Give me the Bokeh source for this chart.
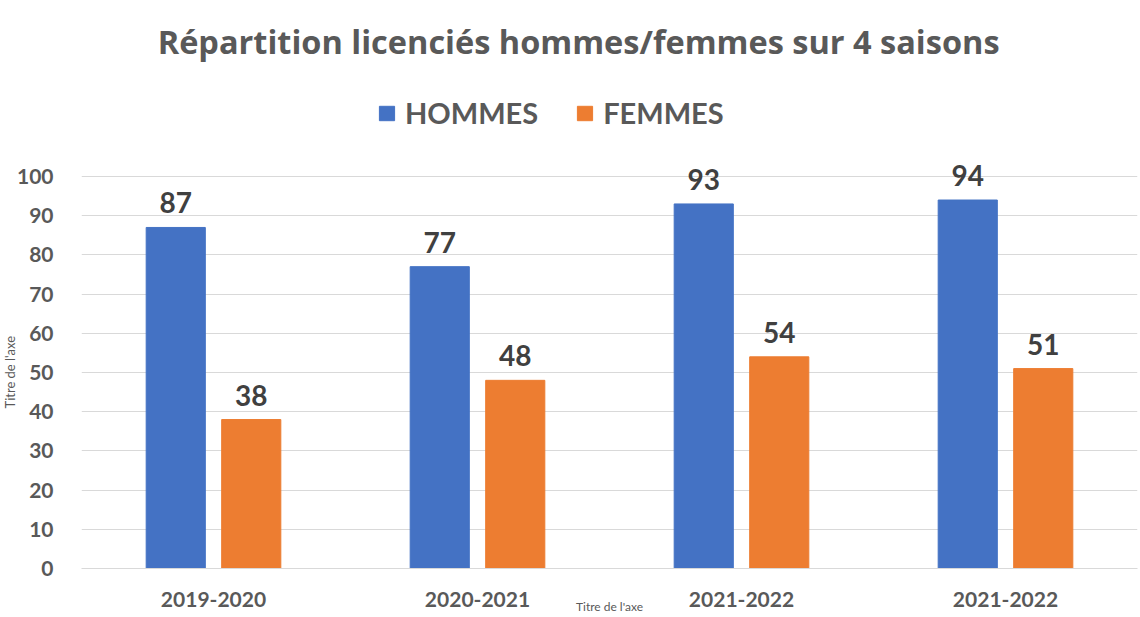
from bokeh.plotting import figure
from bokeh.models import (ColumnDataSource, Range1d, FixedTicker, LabelSet, Label,
                          Legend, LegendItem, Title)
from bokeh.core.properties import value
from bokeh.transform import dodge
from bokeh.embed import file_html
from bokeh.resources import INLINE

categories = ["2019-2020", "2020-2021", "2021-2022", "2021-2022"]
hommes = [87, 77, 93, 94]
femmes = [38, 48, 54, 51]
series_names = ["HOMMES", "FEMMES"]
y_ticks = [0, 10, 20, 30, 40, 50, 60, 70, 80, 90, 100]

FONT = "Lato"
TITLE_FONT = "Open Sans"
GREY = "#595959"
DARK = "#404040"
BLUE = "#4472C4"
ORANGE = "#ED7D31"

idx = list(range(len(categories)))
src = ColumnDataSource(dict(x=idx, hommes=hommes, femmes=femmes,
                            hl=[str(v) for v in hommes], fl=[str(v) for v in femmes]))

p = figure(width=1140, height=617, output_backend="svg", toolbar_location=None,
           title_location=None,
           x_range=Range1d(-0.5, len(categories) - 0.5), y_range=Range1d(0, 144.9),
           min_border_left=81, min_border_right=3, min_border_top=0, min_border_bottom=49)
p.outline_line_color = None
p.background_fill_color = "white"
p.border_fill_color = "white"

rh = p.vbar(x=dodge("x", -0.143, range=p.x_range), top="hommes", width=0.224, source=src,
            fill_color=BLUE, line_color=BLUE)
rf = p.vbar(x=dodge("x", 0.143, range=p.x_range), top="femmes", width=0.224, source=src,
            fill_color=ORANGE, line_color=ORANGE)

for col, lab, off in (("hommes", "hl", -0.143), ("femmes", "fl", 0.143)):
    ls = LabelSet(x=dodge("x", off, range=p.x_range), y=col, text=lab, source=src,
                  y_offset=14, text_align="center", text_baseline="alphabetic",
                  text_font=value(FONT), text_font_style="bold", text_font_size="28px",
                  text_color=DARK)
    p.add_layout(ls)

# chart title (inside the tall frame)
p.add_layout(Label(x=1.383, y=134.5, text="Répartition licenciés hommes/femmes sur 4 saisons",
                   text_align="center", text_baseline="middle", text_font=TITLE_FONT,
                   text_font_style="bold", text_font_size="32.5px", text_color=GREY))

# axes
p.xaxis.ticker = FixedTicker(ticks=idx)
p.xaxis.major_label_overrides = {i: c for i, c in zip(idx, categories)}
p.xaxis.major_tick_line_color = None
p.xaxis.minor_tick_line_color = None
p.xaxis.axis_line_color = "#d9d9d9"
p.xaxis.major_label_standoff = 17
p.xaxis.major_label_text_font = FONT
p.xaxis.major_label_text_font_style = "bold"
p.xaxis.major_label_text_font_size = "21px"
p.xaxis.major_label_text_color = GREY
p.xaxis.axis_label = "Titre de l'axe"
p.xaxis.axis_label_text_font = FONT
p.xaxis.axis_label_text_font_style = "normal"
p.xaxis.axis_label_text_font_size = "12px"
p.xaxis.axis_label_text_color = GREY
p.xaxis.axis_label_standoff = -11

p.yaxis.ticker = FixedTicker(ticks=y_ticks)
p.yaxis.major_tick_line_color = None
p.yaxis.minor_tick_line_color = None
p.yaxis.axis_line_color = None
p.yaxis.major_label_standoff = 22
p.yaxis.major_label_text_font = FONT
p.yaxis.major_label_text_font_style = "bold"
p.yaxis.major_label_text_font_size = "21px"
p.yaxis.major_label_text_color = GREY

p.add_layout(Title(text="Titre de l'axe", align="left", offset=160, standoff=-8,
                   text_font=FONT, text_font_style="normal", text_font_size="13px",
                   text_color=GREY), "left")

p.xgrid.grid_line_color = None
p.ygrid.grid_line_color = "#d9d9d9"
p.ygrid.grid_line_width = 1

# legend
legend = Legend(items=[LegendItem(label=series_names[0], renderers=[rh]),
                       LegendItem(label=series_names[1], renderers=[rf])],
                orientation="horizontal", location=(296, 438),
                label_text_font=FONT, label_text_font_style="bold",
                label_text_font_size="29px", label_text_color=GREY,
                glyph_width=19, glyph_height=18, label_standoff=9, spacing=37,
                padding=0, margin=0, border_line_color=None, background_fill_alpha=0)
p.add_layout(legend)

open("out.html", "w").write(file_html(p, INLINE))
